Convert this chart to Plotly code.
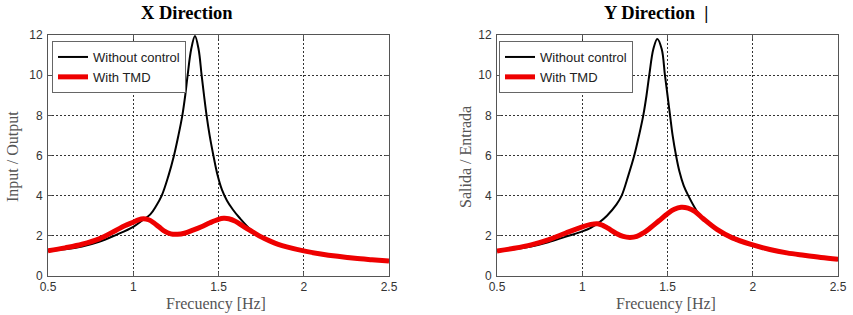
import plotly.graph_objects as go

# ---- data ----
x_red_f = [0.5, 0.6, 0.7, 0.8, 0.9, 0.95, 1.0, 1.03, 1.06, 1.09, 1.12, 1.15, 1.18, 1.22, 1.26, 1.3,
           1.35, 1.4, 1.45, 1.5, 1.53, 1.56, 1.6, 1.65, 1.7, 1.75, 1.8, 1.85, 1.9, 2.0, 2.1, 2.2, 2.3, 2.4, 2.5]
x_red_v = [1.25, 1.4, 1.58, 1.85, 2.28, 2.5, 2.68, 2.8, 2.85, 2.8, 2.65, 2.45, 2.25, 2.1, 2.08, 2.13,
           2.28, 2.45, 2.65, 2.82, 2.87, 2.85, 2.72, 2.45, 2.2, 1.95, 1.75, 1.58, 1.45, 1.25, 1.1, 0.98, 0.88, 0.81, 0.75]

x_blk_f = [0.5, 0.6, 0.7, 0.8, 0.9, 1.0, 1.05, 1.1, 1.135, 1.167, 1.205, 1.239, 1.265, 1.288, 1.305, 1.319,
           1.34, 1.362, 1.383, 1.401, 1.415, 1.43, 1.448, 1.47, 1.495, 1.52, 1.55, 1.585, 1.623, 1.69, 1.75,
           1.8, 1.85, 1.9, 2.0, 2.1, 2.2, 2.3, 2.4, 2.5]
x_blk_v = [1.25, 1.33, 1.47, 1.7, 2.05, 2.45, 2.75, 3.07, 3.5, 4.0, 4.95, 6.0, 7.0, 8.0, 9.0, 10.0,
           11.3, 11.95, 11.3, 10.0, 9.0, 8.0, 7.0, 6.0, 5.0, 4.3, 3.75, 3.3, 2.9, 2.3, 1.95,
           1.75, 1.58, 1.45, 1.25, 1.1, 0.98, 0.88, 0.81, 0.75]

y_red_f = [0.5, 0.6, 0.7, 0.8, 0.9, 1.0, 1.05, 1.09, 1.12, 1.15, 1.2, 1.24, 1.28, 1.32, 1.36, 1.4, 1.45,
           1.5, 1.54, 1.58, 1.62, 1.66, 1.71, 1.79, 1.88, 2.0, 2.1, 2.2, 2.3, 2.4, 2.5]
y_red_v = [1.25, 1.38, 1.55, 1.8, 2.13, 2.45, 2.57, 2.6, 2.52, 2.38, 2.12, 1.97, 1.92, 1.97, 2.15, 2.4, 2.75,
           3.1, 3.32, 3.42, 3.38, 3.22, 2.85, 2.32, 1.9, 1.55, 1.32, 1.15, 1.03, 0.92, 0.83]

y_blk_f = [0.5, 0.6, 0.7, 0.8, 0.9, 1.0, 1.05, 1.104, 1.145, 1.2, 1.231, 1.27, 1.305, 1.333, 1.358, 1.377,
           1.393, 1.417, 1.44, 1.466, 1.485, 1.5, 1.515, 1.53, 1.55, 1.57, 1.595, 1.622, 1.66, 1.7, 1.79,
           1.88, 2.0, 2.1, 2.2, 2.3, 2.4, 2.5]
y_blk_v = [1.25, 1.33, 1.47, 1.68, 1.95, 2.22, 2.4, 2.7, 3.0, 3.55, 4.0, 5.0, 6.0, 7.0, 8.0, 9.0,
           10.0, 11.3, 11.8, 11.3, 10.0, 9.0, 8.0, 7.0, 6.0, 5.2, 4.5, 4.0, 3.4, 2.9, 2.28,
           1.85, 1.5, 1.28, 1.12, 1.0, 0.9, 0.8]

x_ticks = [0.5, 1, 1.5, 2, 2.5]
x_tick_text = ["0.5", "1", "1.5", "2", "2.5"]
y_ticks = [0, 2, 4, 6, 8, 10, 12]

W, H = 853, 315
L1, R1 = 48, 389
L2, R2 = 497, 838
TOP, BOT = 35, 276

fig = go.Figure()

BLACK = dict(color="black", width=2, shape="spline", smoothing=1.0)
RED = dict(color="#ee0000", width=5, shape="spline", smoothing=1.0)

fig.add_trace(go.Scatter(x=x_blk_f, y=x_blk_v, mode="lines", name="Without control",
                         line=BLACK, xaxis="x", yaxis="y", legend="legend"))
fig.add_trace(go.Scatter(x=x_red_f, y=x_red_v, mode="lines", name="With TMD",
                         line=RED, xaxis="x", yaxis="y", legend="legend"))
fig.add_trace(go.Scatter(x=y_blk_f, y=y_blk_v, mode="lines", name="Without control",
                         line=BLACK, xaxis="x2", yaxis="y2", legend="legend2"))
fig.add_trace(go.Scatter(x=y_red_f, y=y_red_v, mode="lines", name="With TMD",
                         line=RED, xaxis="x2", yaxis="y2", legend="legend2"))

tickfont = dict(family="Liberation Sans, Arial", size=12, color="#333333")
common_x = dict(range=[0.5, 2.5], tickvals=x_ticks, ticktext=x_tick_text, showgrid=True,
                gridcolor="#333333", griddash="2px,2px", gridwidth=1,
                showline=True, linecolor="#555555", linewidth=1, mirror="ticks",
                ticks="inside", ticklen=4, tickcolor="#555555", tickfont=tickfont,
                zeroline=False, automargin=False)
common_y = dict(range=[0, 12], tickvals=y_ticks, showgrid=True,
                gridcolor="#333333", griddash="2px,2px", gridwidth=1,
                showline=True, linecolor="#555555", linewidth=1, mirror="ticks",
                ticks="inside", ticklen=4, tickcolor="#555555", tickfont=tickfont,
                zeroline=False, automargin=False, ticklabelstandoff=2)

ybot = (H - BOT) / H
ytop = (H - TOP) / H

legend_style = dict(bgcolor="white", bordercolor="#666666", borderwidth=1,
                    font=dict(family="Liberation Sans, Arial", size=13, color="#222222"),
                    xanchor="left", yanchor="top", tracegroupgap=0, itemwidth=30)

fig.update_layout(
    width=W, height=H, margin=dict(l=0, r=0, t=0, b=0, autoexpand=False),
    paper_bgcolor="white", plot_bgcolor="white",
    xaxis=dict(domain=[L1 / W, R1 / W], anchor="y", **common_x),
    yaxis=dict(domain=[ybot, ytop], anchor="x", **common_y),
    xaxis2=dict(domain=[L2 / W, R2 / W], anchor="y2", **common_x),
    yaxis2=dict(domain=[ybot, ytop], anchor="x2", **common_y),
    legend=dict(x=52 / W, y=(H - 41) / H, **legend_style),
    legend2=dict(x=499 / W, y=(H - 41) / H, **legend_style),
    showlegend=True,
)

title_font = dict(family="Liberation Serif, Times New Roman", size=18.5, color="black")
label_font = dict(family="Liberation Serif, Times New Roman", size=16, color="#555555")
annots = [
    dict(text="<b>X Direction</b>", x=187 / W, y=(H - 13) / H, font=title_font),
    dict(text="<b>Y Direction</b>  <b>|</b>", x=656 / W, y=(H - 13) / H, font=title_font),
    dict(text="Frecuency [Hz]", x=216 / W, y=(H - 304) / H, font=label_font),
    dict(text="Frecuency [Hz]", x=666 / W, y=(H - 304) / H, font=label_font),
    dict(text="Input / Output", x=13 / W, y=(H - 157) / H, font=label_font, textangle=-90),
    dict(text="Salida / Entrada", x=465 / W, y=(H - 157) / H, font=label_font, textangle=-90),
]
for a in annots:
    fig.add_annotation(xref="paper", yref="paper", showarrow=False,
                       xanchor="center", yanchor="middle", **a)

fig.write_html("out.html", config={"displayModeBar": False},
               post_script="document.body.style.margin='0';document.body.style.overflow='hidden';")
